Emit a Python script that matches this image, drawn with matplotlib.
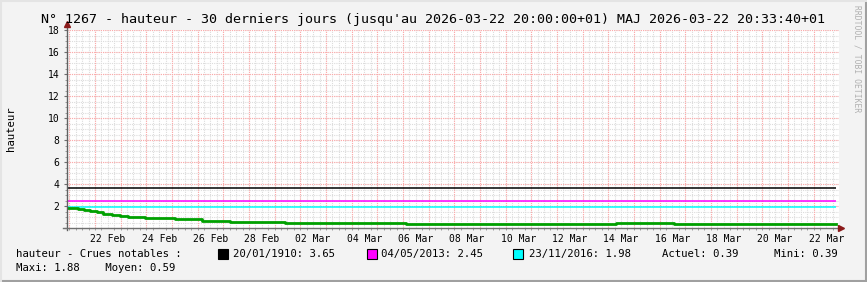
import matplotlib
matplotlib.use('Agg')
import matplotlib.pyplot as plt
from matplotlib.patches import Rectangle
from matplotlib.lines import Line2D
import pandas as pd
import numpy as np

plt.rcParams['font.family'] = 'DejaVu Sans Mono'

# Paliers de hauteur (m)
temps = pd.to_datetime([
    '2026-02-20 21:50', '2026-02-21 08:20', '2026-02-21 13:45', '2026-02-21 19:15',
    '2026-02-22 01:30', '2026-02-22 07:45', '2026-02-22 15:30', '2026-02-22 23:20',
    '2026-02-23 07:05', '2026-02-23 22:40', '2026-02-24 12:45', '2026-02-25 02:45',
    '2026-02-26 03:40', '2026-02-27 06:00', '2026-03-01 09:25', '2026-03-06 03:05',
    '2026-03-14 07:15', '2026-03-16 13:40',
])
hauteur = [1.88, 1.79, 1.70, 1.55, 1.46, 1.33, 1.24, 1.15, 1.06, 0.97, 0.91, 0.82,
           0.70, 0.58, 0.49, 0.39, 0.48, 0.39]
fin_donnees = pd.Timestamp('2026-03-22 21:00')

# Crues notables
crues_dates = ['20/01/1910', '04/05/2013', '23/11/2016']
crues_valeurs = [3.65, 2.45, 1.98]
crues_couleurs = ['#000000', '#ff00ff', '#00ffff']

actuel, mini, maxi, moyen = 0.39, 0.39, 1.88, 0.59

x_debut = pd.Timestamp('2026-02-20 21:50')
x_fin = pd.Timestamp('2026-03-22 23:50')

titre = "N° 1267 - hauteur - 30 derniers jours (jusqu'au 2026-03-22 20:00:00+01) MAJ 2026-03-22 20:33:40+01"

W, H = 867, 282
fig = plt.figure(figsize=(W / 100, H / 100), dpi=100, facecolor='#f3f3f3')
ax = fig.add_axes([67 / W, 1 - 228.3 / H, 772 / W, 198 / H])
ax.set_facecolor('white')
ax.set_xlim(x_debut, x_fin)
ax.set_ylim(0, 18)

# grilles
dot = (0, (1, 1))
six_h = pd.date_range(x_debut.ceil('6h'), x_fin, freq='6h')
jours = pd.date_range(x_debut.ceil('D'), x_fin, freq='D')
for t in six_h:
    ax.axvline(t, color='#dcdcdc', lw=0.8, ls=dot, zorder=0)
for v in np.arange(0.5, 18.01, 0.5):
    ax.axhline(v, color='#dcdcdc', lw=0.8, ls=dot, zorder=0)
for t in jours:
    ax.axvline(t, color='#ffa8a8', lw=0.8, ls=dot, zorder=1)
for v in range(2, 19, 2):
    ax.axhline(v, color='#ffa8a8', lw=0.8, ls=dot, zorder=1)

# ticks
ax.set_yticks(range(0, 19, 2))
ax.set_yticklabels(['' if v == 0 else str(v) for v in range(0, 19, 2)])
ax.set_yticks(np.arange(0, 18.01, 0.5), minor=True)
labels_x = pd.date_range('2026-02-22 12:00', '2026-03-22 12:00', freq='2D')
ax.set_xticks(labels_x)
ax.set_xticklabels([d.strftime('%d %b') for d in labels_x])
ax.set_xticks(six_h, minor=True)
ax.tick_params(axis='y', which='major', length=2.5, width=0.8, color='#707070', labelsize=7, pad=3)
ax.tick_params(axis='y', which='minor', length=1.2, width=0.6, color='#909090')
ax.tick_params(axis='x', which='major', length=0, labelsize=7, pad=4)
ax.tick_params(axis='x', which='minor', length=1.2, width=0.6, color='#909090')
for s in ax.spines.values():
    s.set_visible(False)

# axes avec flèches
ax.plot([0, 0], [-0.01, 1.03], transform=ax.transAxes, clip_on=False, color='#606060', lw=1, zorder=5)
ax.plot([-0.005, 1.0], [0, 0], transform=ax.transAxes, clip_on=False, color='#707070', lw=1, zorder=5)
ax.plot(0, 1.034, marker='^', ms=4.5, color='#8b1a1a', transform=ax.transAxes, clip_on=False, zorder=6)
ax.plot(1.003, 0, marker='>', ms=4.5, color='#8b1a1a', transform=ax.transAxes, clip_on=False, zorder=6)

# données
ax.hlines(crues_valeurs, temps[0], fin_donnees, colors=crues_couleurs, lw=1.1, zorder=3)
ax.plot(list(temps) + [fin_donnees], hauteur + [hauteur[-1]], drawstyle='steps-post',
        color='#00a000', lw=2, zorder=4)

# textes
fig.text(433 / W, 1 - 19 / H, titre, ha='center', va='center', fontsize=9.6)
fig.text(11 / W, 1 - 129 / H, 'hauteur', rotation=90, ha='center', va='center', fontsize=7.7)
fig.text(857 / W, 1 - 5 / H, 'RRDTOOL / TOBI OETIKER', rotation=270, ha='center', va='top',
         fontsize=5.8, color='#b0b0b0')

# légende
y1, y2 = 1 - 254 / H, 1 - 267.7 / H
fs = 7.7
fig.text(16 / W, y1, 'hauteur - Crues notables :', va='center', fontsize=fs)
box_x = [218, 366.5, 513]
txt_x = [233, 381, 529]
for bx, tx, d, v, c in zip(box_x, txt_x, crues_dates, crues_valeurs, crues_couleurs):
    fig.patches.append(Rectangle((bx / W, 1 - 259 / H), 10 / W, 10 / H, transform=fig.transFigure,
                                 facecolor=c, edgecolor='black', lw=0.8))
    fig.text(tx / W, y1, f'{d}: {v:.2f}', va='center', fontsize=fs)
fig.text(661.7 / W, y1, f'Actuel: {actuel:.2f}', va='center', fontsize=fs)
fig.text(774 / W, y1, f'Mini: {mini:.2f}', va='center', fontsize=fs)
fig.text(16 / W, y2, f'Maxi: {maxi:.2f}    Moyen: {moyen:.2f}', va='center', fontsize=fs)

# cadre
fig.add_artist(Line2D([0, 1], [1 / H, 1 / H], transform=fig.transFigure, color='#a0a0a0', lw=1.5))
fig.add_artist(Line2D([1 - 1 / W, 1 - 1 / W], [0, 1], transform=fig.transFigure, color='#a0a0a0', lw=1.5))
fig.add_artist(Line2D([0, 1], [1 - 1 / H, 1 - 1 / H], transform=fig.transFigure, color='#e4e4e4', lw=1.5))
fig.add_artist(Line2D([1 / W, 1 / W], [0, 1], transform=fig.transFigure, color='#e4e4e4', lw=1.5))

fig.savefig('out.png', dpi=100, facecolor=fig.get_facecolor())
